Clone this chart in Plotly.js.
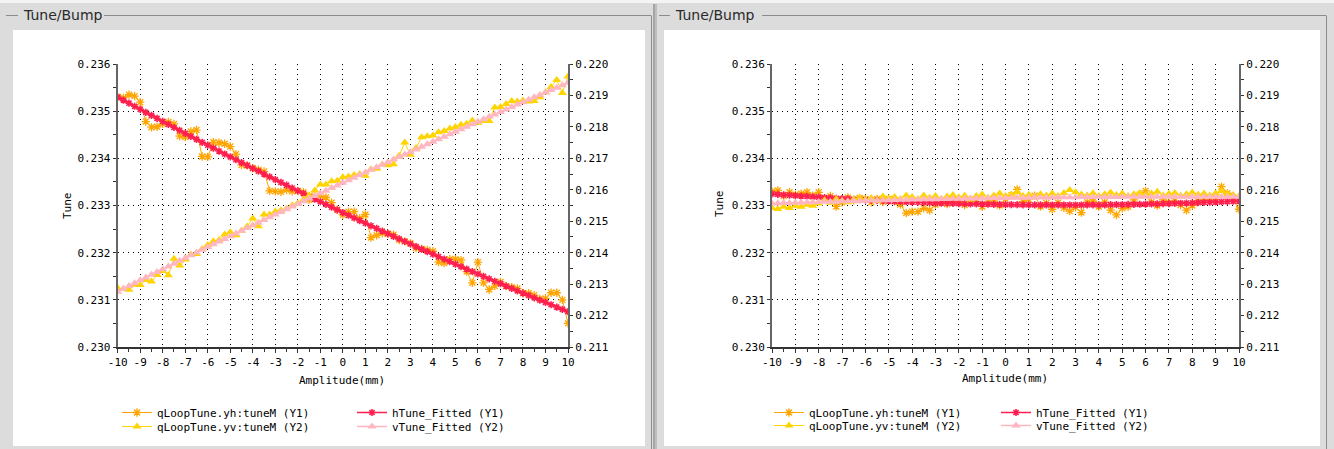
<!DOCTYPE html>
<html>
<head>
<meta charset="utf-8">
<script src="https://cdn.plot.ly/plotly-3.0.1.min.js"></script>
<style>html,body{margin:0;padding:0;background:#dcdcdc;}#chart{width:1334px;height:449px;}</style>
</head>
<body>
<div id="chart"></div>
<script>
// ---------------- data ----------------
const amplitude = [
 -10,-9.75,-9.5,-9.25, -9,-8.75,-8.5,-8.25, -8,-7.75,-7.5,-7.25, -7,-6.75,-6.5,-6.25,
 -6,-5.75,-5.5,-5.25, -5,-4.75,-4.5,-4.25, -4,-3.75,-3.5,-3.25, -3,-2.75,-2.5,-2.25,
 -2,-1.75,-1.5,-1.25, -1,-0.75,-0.5,-0.25, 0,0.25,0.5,0.75, 1,1.25,1.5,1.75,
 2,2.25,2.5,2.75, 3,3.25,3.5,3.75, 4,4.25,4.5,4.75, 5,5.25,5.5,5.75,
 6,6.25,6.5,6.75, 7,7.25,7.5,7.75, 8,8.25,8.5,8.75, 9,9.25,9.5,9.75, 10];

const xTickValues = [-10,-9,-8,-7,-6,-5,-4,-3,-2,-1,0,1,2,3,4,5,6,7,8,9,10];
const xTickLabels = ['-10','-9','-8','-7','-6','-5','-4','-3','-2','-1','0','1','2','3','4','5','6','7','8','9','10'];

// Left panel
const leftYh = [
 0.23530,0.23528,0.23535,0.23532, 0.23519,0.23478,0.23466,0.23467, 0.23473,0.23477,0.23473,0.23447,
 0.23445,0.23457,0.23460,0.23404, 0.23403,0.23434,0.23433,0.23431, 0.23425,0.23409,0.23386,0.23385,
 0.23379,0.23376,0.23372,0.23331, 0.23330,0.23329,0.23333,0.23330, 0.23331,0.23328,0.23312,0.23319,
 0.23320,0.23317,0.23306,0.23291, 0.23280,0.23287,0.23287,0.23273, 0.23281,0.23232,0.23237,0.23241,
 0.23240,0.23238,0.23227,0.23224, 0.23220,0.23210,0.23208,0.23206, 0.23203,0.23180,0.23178,0.23186,
 0.23186,0.23184,0.23160,0.23136, 0.23180,0.23136,0.23122,0.23129, 0.23138,0.23129,0.23127,0.23124,
 0.23114,0.23114,0.23110,0.23102, 0.23103,0.23115,0.23115,0.23100, 0.23050];

const leftYv = [
 0.21287,0.21285,0.21282,0.21298, 0.21297,0.21313,0.21308,0.21329, 0.21342,0.21328,0.21381,0.21359,
 0.21378,0.21394,0.21396,0.21412, 0.21424,0.21436,0.21440,0.21458, 0.21465,0.21455,0.21470,0.21483,
 0.21509,0.21484,0.21521,0.21521, 0.21531,0.21535,0.21540,0.21551, 0.21557,0.21569,0.21582,0.21598,
 0.21617,0.21617,0.21627,0.21629, 0.21640,0.21642,0.21647,0.21650, 0.21645,0.21665,0.21667,0.21680,
 0.21678,0.21681,0.21708,0.21750, 0.21711,0.21733,0.21767,0.21770, 0.21773,0.21783,0.21787,0.21795,
 0.21800,0.21807,0.21810,0.21820, 0.21813,0.21819,0.21819,0.21862, 0.21863,0.21873,0.21882,0.21881,
 0.21884,0.21881,0.21882,0.21894, 0.21910,0.21927,0.21949,0.21908, 0.21960];

const leftHFit = [
 0.235300,0.235234,0.235169,0.235104, 0.235040,0.234975,0.234910,0.234846, 0.234782,0.234718,0.234654,0.234591,
 0.234528,0.234466,0.234403,0.234340, 0.234278,0.234216,0.234154,0.234092, 0.234031,0.233970,0.233909,0.233849,
 0.233788,0.233728,0.233667,0.233607, 0.233548,0.233489,0.233430,0.233371, 0.233312,0.233253,0.233195,0.233137,
 0.233080,0.233022,0.232964,0.232907, 0.232850,0.232793,0.232737,0.232680, 0.232624,0.232569,0.232513,0.232457,
 0.232402,0.232347,0.232292,0.232237, 0.232184,0.232129,0.232075,0.232022, 0.231968,0.231915,0.231861,0.231808,
 0.231756,0.231704,0.231652,0.231600, 0.231548,0.231496,0.231445,0.231394, 0.231343,0.231293,0.231242,0.231192,
 0.231142,0.231092,0.231042,0.230993, 0.230945,0.230896,0.230847,0.230798, 0.230750];

const leftVFit = [
 0.212760,0.212850,0.212940,0.213029, 0.213119,0.213208,0.213297,0.213386, 0.213474,0.213563,0.213651,0.213739,
 0.213827,0.213915,0.214003,0.214090, 0.214178,0.214265,0.214352,0.214438, 0.214525,0.214611,0.214698,0.214784,
 0.214870,0.214955,0.215041,0.215126, 0.215211,0.215296,0.215381,0.215466, 0.215550,0.215635,0.215719,0.215803,
 0.215887,0.215970,0.216054,0.216137, 0.216220,0.216303,0.216386,0.216468, 0.216551,0.216633,0.216715,0.216797,
 0.216878,0.216960,0.217041,0.217122, 0.217203,0.217284,0.217365,0.217445, 0.217526,0.217606,0.217686,0.217765,
 0.217845,0.217924,0.218004,0.218083, 0.218162,0.218240,0.218319,0.218397, 0.218475,0.218553,0.218631,0.218709,
 0.218786,0.218863,0.218940,0.219017, 0.219095,0.219171,0.219248,0.219324, 0.219400];

// Right panel
const rightYh = [
 0.23330,0.23332,0.23320,0.23328, 0.23323,0.23325,0.23328,0.23321, 0.23328,0.23315,0.23320,0.23298,
 0.23307,0.23317,0.23311,0.23316, 0.23314,0.23307,0.23314,0.23308, 0.23314,0.23309,0.23302,0.23284,
 0.23287,0.23287,0.23294,0.23290, 0.23302,0.23311,0.23303,0.23312, 0.23307,0.23301,0.23313,0.23308,
 0.23298,0.23307,0.23310,0.23300, 0.23314,0.23322,0.23334,0.23308, 0.23313,0.23321,0.23298,0.23305,
 0.23292,0.23306,0.23295,0.23288, 0.23296,0.23285,0.23307,0.23309, 0.23298,0.23307,0.23290,0.23280,
 0.23294,0.23297,0.23312,0.23323, 0.23331,0.23307,0.23300,0.23312, 0.23306,0.23310,0.23301,0.23290,
 0.23300,0.23309,0.23315,0.23311, 0.23317,0.23340,0.23326,0.23315, 0.23292];

const rightYv = [
 0.21542,0.21539,0.21546,0.21542, 0.21549,0.21546,0.21552,0.21549, 0.21556,0.21567,0.21559,0.21571,
 0.21565,0.21560,0.21570,0.21575, 0.21568,0.21574,0.21564,0.21579, 0.21573,0.21577,0.21571,0.21582,
 0.21577,0.21571,0.21582,0.21575, 0.21580,0.21571,0.21579,0.21583, 0.21576,0.21581,0.21569,0.21580,
 0.21585,0.21575,0.21582,0.21588, 0.21580,0.21584,0.21593,0.21580, 0.21584,0.21577,0.21586,0.21582,
 0.21588,0.21580,0.21590,0.21599, 0.21592,0.21585,0.21582,0.21589, 0.21580,0.21586,0.21591,0.21583,
 0.21588,0.21580,0.21586,0.21590, 0.21583,0.21588,0.21594,0.21582, 0.21587,0.21590,0.21581,0.21586,
 0.21591,0.21584,0.21588,0.21582, 0.21589,0.21596,0.21587,0.21583, 0.21580];

const rightHFit = [
 0.233245,0.233236,0.233227,0.233218, 0.233209,0.233200,0.233192,0.233184, 0.233176,0.233168,0.233161,0.233153,
 0.233146,0.233139,0.233132,0.233125, 0.233119,0.233113,0.233107,0.233101, 0.233095,0.233089,0.233084,0.233079,
 0.233074,0.233069,0.233065,0.233060, 0.233056,0.233052,0.233048,0.233045, 0.233041,0.233038,0.233035,0.233032,
 0.233029,0.233026,0.233024,0.233022, 0.233020,0.233018,0.233017,0.233015, 0.233014,0.233013,0.233012,0.233012,
 0.233011,0.233011,0.233011,0.233011, 0.233011,0.233011,0.233012,0.233013, 0.233014,0.233015,0.233017,0.233018,
 0.233020,0.233022,0.233024,0.233026, 0.233029,0.233032,0.233035,0.233038, 0.233041,0.233044,0.233048,0.233052,
 0.233056,0.233060,0.233065,0.233069, 0.233074,0.233079,0.233084,0.233090, 0.233095];

const rightVFit = [
 0.215565,0.215571,0.215577,0.215583, 0.215589,0.215595,0.215600,0.215606, 0.215611,0.215617,0.215622,0.215627,
 0.215632,0.215637,0.215642,0.215647, 0.215652,0.215657,0.215661,0.215666, 0.215670,0.215674,0.215679,0.215683,
 0.215687,0.215691,0.215695,0.215699, 0.215702,0.215706,0.215709,0.215713, 0.215716,0.215720,0.215723,0.215726,
 0.215729,0.215732,0.215735,0.215737, 0.215740,0.215743,0.215745,0.215747, 0.215750,0.215752,0.215754,0.215756,
 0.215758,0.215760,0.215762,0.215764, 0.215765,0.215767,0.215768,0.215770, 0.215771,0.215772,0.215773,0.215774,
 0.215775,0.215776,0.215777,0.215777, 0.215778,0.215778,0.215779,0.215779, 0.215779,0.215779,0.215779,0.215779,
 0.215779,0.215779,0.215779,0.215778, 0.215778,0.215777,0.215777,0.215776, 0.215775];

const seriesNames = ['qLoopTune.yh:tuneM (Y1)','qLoopTune.yv:tuneM (Y2)','hTune_Fitted (Y1)','vTune_Fitted (Y2)'];
const panelTitle = 'Tune/Bump';
const xTitle = 'Amplitude(mm)';
const yTitle = 'Tune';
const y1Range = [0.230, 0.236];
const y2Range = [0.211, 0.220];

// ---------------- layout helpers ----------------
const W = 1334, H = 449;
const px = v => v / W;
const py = v => 1 - v / H;
const MONO = 'DejaVu Sans Mono, monospace';
const C = {yh:'#ffa500', yv:'#ffd400', h:'#ff1f4f', v:'#ffb6c1'};

function traces(xa, ya1, ya2, yh, yv, hf, vf, lg) {
  return [
    {x: amplitude, y: yh, xaxis: xa, yaxis: ya1, type: 'scatter', mode: 'lines+markers', name: seriesNames[0], legend: lg[0],
     line: {color: C.yh, width: 1}, marker: {symbol: 'asterisk-open', size: 7, line: {color: C.yh, width: 1.3}}},
    {x: amplitude, y: yv, xaxis: xa, yaxis: ya2, type: 'scatter', mode: 'lines+markers', name: seriesNames[1], legend: lg[1],
     line: {color: C.yv, width: 1}, marker: {symbol: 'triangle-up', size: 8, color: C.yv}},
    {x: amplitude, y: hf, xaxis: xa, yaxis: ya1, type: 'scatter', mode: 'lines+markers', name: seriesNames[2], legend: lg[2],
     line: {color: C.h, width: 1.5}, marker: {symbol: 'asterisk-open', size: 6, line: {color: C.h, width: 1.6}}},
    {x: amplitude, y: vf, xaxis: xa, yaxis: ya2, type: 'scatter', mode: 'lines+markers', name: seriesNames[3], legend: lg[3],
     line: {color: C.v, width: 1.5}, marker: {symbol: 'triangle-up', size: 8, color: C.v}}
  ];
}

const data = [].concat(
  traces('x', 'y', 'y2', leftYh, leftYv, leftHFit, leftVFit, ['legend', 'legend2', 'legend3', 'legend4']),
  traces('x2', 'y3', 'y4', rightYh, rightYv, rightHFit, rightVFit, ['legend5', 'legend6', 'legend7', 'legend8'])
);

const tickFont = {family: MONO, size: 11, color: '#000'};
const GRID = {showgrid: true, gridcolor: '#000', gridwidth: 1, griddash: '1px,4px'};

function xAxis(domain, anchor) {
  return Object.assign({
    domain: domain, anchor: anchor, range: [-10, 10], tickmode: 'array', tickvals: xTickValues, ticktext: xTickLabels,
    zeroline: false, showline: true, linecolor: '#333', linewidth: 1.5,
    ticks: 'outside', ticklen: 4, tickcolor: '#333', tickwidth: 1, tickfont: tickFont,
    minor: {ticks: 'outside', ticklen: 3, dtick: 0.5, tick0: -10, tickcolor: '#333', showgrid: false},
    fixedrange: true
  }, GRID);
}
function yAxisL(anchor, domain) {
  return Object.assign({
    domain: domain, anchor: anchor, range: y1Range, dtick: 0.001, tick0: 0.230, tickformat: '.3f',
    zeroline: false, showline: true, linecolor: '#666', linewidth: 2,
    ticks: 'outside', ticklen: 3, tickcolor: '#333', tickwidth: 1, tickfont: tickFont,
    minor: {ticks: 'outside', ticklen: 3, dtick: 0.0005, tick0: 0.230, tickcolor: '#333', showgrid: false},
    fixedrange: true
  }, GRID);
}
function yAxisR(anchor, over) {
  return {
    overlaying: over, side: 'right', anchor: anchor, range: y2Range, dtick: 0.001, tick0: 0.211, tickformat: '.3f',
    zeroline: false, showgrid: false, showline: true, linecolor: '#666', linewidth: 2,
    ticks: 'outside', ticklen: 3, tickcolor: '#333', tickwidth: 1, tickfont: tickFont,
    minor: {ticks: 'outside', ticklen: 3, dtick: 0.0005, tick0: 0.211, tickcolor: '#333', showgrid: false},
    fixedrange: true
  };
}

const yDom = [py(347), py(64)];
function legendAt(x, yTop) {
  return {bgcolor: 'rgba(0,0,0,0)', borderwidth: 0, font: {family: MONO, size: 11, color: '#000'},
    orientation: 'v', xanchor: 'left', yanchor: 'top', tracegroupgap: 0, itemclick: false,
    x: px(x), y: py(yTop)};
}

function hline(x0, x1, y, color, w) {
  return {type: 'line', xref: 'paper', yref: 'paper', x0: px(x0), x1: px(x1), y0: py(y), y1: py(y), line: {color: color, width: w || 1}, layer: 'below'};
}
function vline(x, y0, y1, color, w) {
  return {type: 'line', xref: 'paper', yref: 'paper', x0: px(x), x1: px(x), y0: py(y0), y1: py(y1), line: {color: color, width: w || 1}, layer: 'below'};
}
function rect(x0, y0, x1, y1, fill) {
  return {type: 'rect', xref: 'paper', yref: 'paper', x0: px(x0), x1: px(x1), y0: py(y1), y1: py(y0), fillcolor: fill, line: {width: 0}, layer: 'below'};
}

const shapes = [
  rect(0, 0, 1334, 3, '#f4f4f4'),
  rect(13, 30, 645, 446, '#ffffff'),
  rect(664, 30, 1320, 446, '#ffffff'),
  hline(6, 18, 15.5, '#8c8c8c'), hline(104, 651, 15.5, '#8c8c8c'), vline(651.5, 15.5, 449, '#8c8c8c'),
  vline(654, 4, 449, '#707070', 1), vline(656, 4, 449, '#a0a0a0', 1),
  hline(659, 670, 15.5, '#8c8c8c'), hline(762, 1326, 15.5, '#8c8c8c'), vline(1326.5, 15.5, 449, '#8c8c8c')
];

function ann(text, x, y, opts) {
  return Object.assign({text: text, xref: 'paper', yref: 'paper', x: px(x), y: py(y), showarrow: false,
    xanchor: 'center', yanchor: 'middle', font: {family: MONO, size: 11, color: '#000'}}, opts || {});
}

const titleFont = {family: 'DejaVu Sans, sans-serif', size: 14, color: '#2a2a2a'};
const annotations = [
  ann(panelTitle, 21, 15, {xanchor: 'left', font: titleFont}),
  ann(panelTitle, 673, 15, {xanchor: 'left', font: titleFont}),
  ann(xTitle, 342, 380), ann(xTitle, 1005, 378),
  ann(yTitle, 67, 206, {textangle: -90}), ann(yTitle, 720, 204, {textangle: -90})
];

const layout = {
  width: W, height: H, margin: {l: 0, r: 0, t: 0, b: 0, pad: 0},
  paper_bgcolor: '#dcdcdc', plot_bgcolor: '#ffffff', showlegend: true,
  xaxis: xAxis([px(117.7), px(568)], 'y'),
  yaxis: yAxisL('x', yDom),
  yaxis2: yAxisR('x', 'y'),
  xaxis2: xAxis([px(772), px(1239)], 'y3'),
  yaxis3: yAxisL('x2', yDom),
  yaxis4: yAxisR('x2', 'y3'),
  legend: legendAt(117, 398),
  legend2: legendAt(117, 412),
  legend3: legendAt(352, 398),
  legend4: legendAt(352, 412),
  legend5: legendAt(769, 398),
  legend6: legendAt(769, 411),
  legend7: legendAt(996, 398),
  legend8: legendAt(996, 411),
  shapes: shapes, annotations: annotations
};

Plotly.newPlot('chart', data, layout, {staticPlot: true, displayModeBar: false});
</script>
</body>
</html>
